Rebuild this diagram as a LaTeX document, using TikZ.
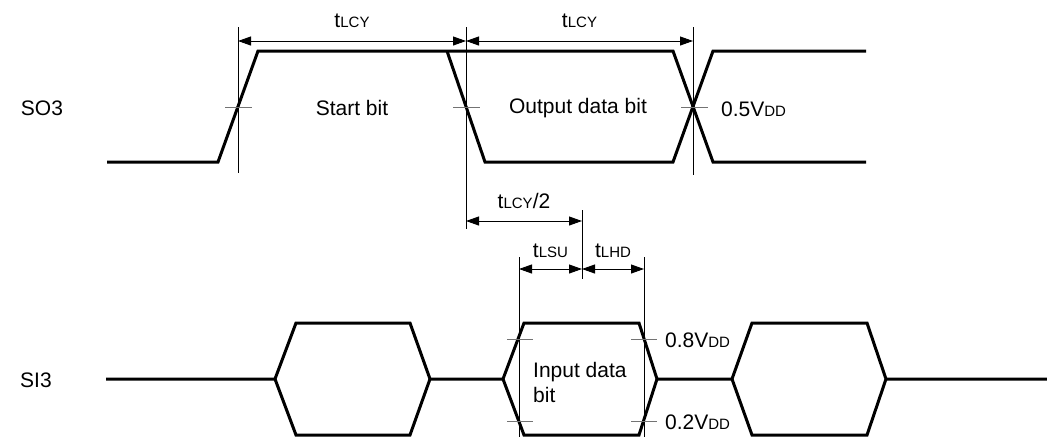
\documentclass[tikz,border=0pt]{standalone}
\usepackage{fontspec}
\setmainfont{Liberation Sans}
\usetikzlibrary{arrows.meta}
\newcommand{\lsub}[1]{{\fontsize{15}{15}\selectfont #1}}

\begin{document}
\begin{tikzpicture}[x=1pt, y=-1pt, font=\fontsize{21}{25}\selectfont,
    wave/.style={line width=3pt, line join=miter},
    guide/.style={line width=0.9pt},
    tickmark/.style={line width=0.9pt, black!55},
    dim/.style={line width=0.9pt, {Triangle[length=13pt,width=9pt]}-{Triangle[length=13pt,width=9pt]}}]
    \useasboundingbox (0,0) rectangle (1047,437);

    % SO3
    \node (so3) at (42,108) {SO3};
    \draw[wave] (107,162) -- (218,162) -- (258,51) -- (673,51) -- (713,162) -- (866,162);
    \draw[wave] (447,51) -- (485,162) -- (673,162) -- (713,51) -- (866,51);
    \node (start) at (352,108) {Start bit};
    \node (out) at (578,108) {Output data bit};
    \node[anchor=west, inner sep=0pt] (v05) at (721,109) {0.5V\lsub{DD}};

    % SI3
    \node (si3) at (36,380) {SI3};
    \draw[wave] (106,379) -- (275,379) -- (296,323) -- (410,323) -- (430,379) -- (503,379) -- (524,323) -- (639,323) -- (657,379) -- (732,379) -- (752,323) -- (867,323) -- (886,379) -- (1047,379);
    \draw[wave] (275,379) -- (296,435) -- (410,435) -- (430,379);
    \draw[wave] (503,379) -- (524,435) -- (639,435) -- (657,379);
    \draw[wave] (732,379) -- (752,435) -- (867,435) -- (886,379);
    \node[anchor=west, align=left, inner sep=0pt] (in) at (533,382) {Input data\\bit};
    \node[anchor=west, inner sep=0pt] (v08) at (665,340) {0.8V\lsub{DD}};
    \node[anchor=west, inner sep=0pt] (v02) at (665,422) {0.2V\lsub{DD}};

    % guides
    \draw[guide] (238,27) -- (238,173);
    \draw[guide] (466,27) -- (466,229);
    \draw[guide] (693,27) -- (693,175);
    \draw[guide] (582,210) -- (582,279);
    \draw[guide] (519,257) -- (519,437);
    \draw[guide] (644,257) -- (644,437);

    % level ticks
    \foreach \x in {238,466,694}
        \draw[tickmark] (\x-13,107) -- (\x+14,107);
    \foreach \y in {339,421} {
        \draw[tickmark] (507,\y) -- (533,\y);
        \draw[tickmark] (631,\y) -- (657,\y);
    }

    % timings
    \coordinate (c1) at (238,41);
    \coordinate (c2) at (466,41);
    \coordinate (c3) at (693,41);
    \coordinate (h1) at (466,221);
    \coordinate (h2) at (582,221);
    \coordinate (s1) at (519,269);
    \coordinate (s2) at (582,269);
    \coordinate (s3) at (644,269);
    \draw[dim] (c1) -- (c2) node[midway, above=10pt] (lcy1) {t\lsub{LCY}};
    \draw[dim] (c2) -- (c3) node[midway, above=10pt] (lcy2) {t\lsub{LCY}};
    \draw[dim] (h1) -- (h2) node[midway, above=9pt] (half) {t\lsub{LCY}/2};
    \draw[dim] (s1) -- (s2) node[midway, above=8pt] (lsu) {t\lsub{LSU}};
    \draw[dim] (s2) -- (s3) node[midway, above=8pt] (lhd) {t\lsub{LHD}};
\end{tikzpicture}
\end{document}
